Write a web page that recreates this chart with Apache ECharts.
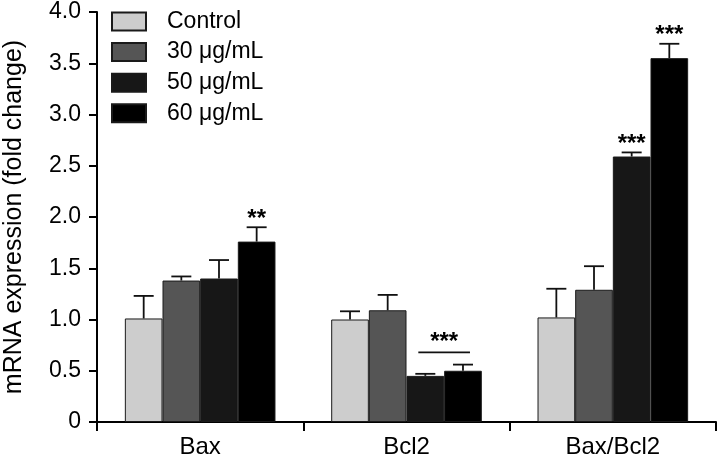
<!DOCTYPE html>
<html><head><meta charset="utf-8">
<script src="https://cdn.jsdelivr.net/npm/echarts@6/dist/echarts.min.js"></script>
<style>html,body{margin:0;padding:0;background:#fff}#c{width:718px;height:458px}</style>
</head><body><div id="c"></div>
<script>
const categories = ['Bax', 'Bcl2', 'Bax/Bcl2'];
const seriesNames = ['Control', '30 μg/mL', '50 μg/mL', '60 μg/mL'];
const control = [1.01, 1.00, 1.02];
const dose30 = [1.38, 1.09, 1.29];
const dose50 = [1.40, 0.45, 2.59];
const dose60 = [1.76, 0.50, 3.55];
const err_control = [0.22, 0.08, 0.28];
const err_dose30 = [0.04, 0.15, 0.23];
const err_dose50 = [0.18, 0.02, 0.04];
const err_dose60 = [0.14, 0.06, 0.14];
// significance: [categoryIndex, seriesIndex, label]
const stars = [[0, 3, '**'], [2, 2, '***'], [2, 3, '***']];
// bracket over Bcl2 50 & 60: [categoryIndex, fromSeries, toSeries, yValue, label]
const bracket = [[1, 2, 3, 0.68, '***']];
const yTicks = [0, 0.5, 1.0, 1.5, 2.0, 2.5, 3.0, 3.5, 4.0];

const values = [control, dose30, dose50, dose60];
const errs = [err_control, err_dose30, err_dose50, err_dose60];
const colors = ['#cdcdcd', '#555555', '#171717', '#000000'];
const GAP = 0.27;
const FONT = 'Liberation Sans, Arial, sans-serif';

function offsetFor(api, s) {
  const cw = api.size([1, 0])[0];
  const bw = cw * (1 - GAP) / 4;
  return (s - 1.5) * bw;
}

const errData = [];
values.forEach((arr, s) => arr.forEach((v, c) => errData.push([c, v, v + errs[s][c], s])));
const starData = stars.map(([c, s, t]) => [c, values[s][c] + errs[s][c], s, t]);
const bracketData = bracket.map(([c, s1, s2, y, t]) => [c, y, s1, s2, t]);

const series = seriesNames.map((n, s) => ({
  name: n, type: 'bar', data: values[s],
  barGap: '0%', barCategoryGap: (GAP * 100) + '%',
  itemStyle: { color: colors[s], borderColor: '#1a1a1a', borderWidth: 1 },
  emphasis: { disabled: true }, z: 2
}));

series.push({
  type: 'custom', z: 3, data: errData, silent: true,
  renderItem: (params, api) => {
    const c = api.value(0), s = api.value(3);
    const off = offsetFor(api, s);
    const p0 = api.coord([c, api.value(1)]);
    const p1 = api.coord([c, api.value(2)]);
    const x = p0[0] + off;
    return { type: 'group', children: [
      { type: 'line', shape: { x1: x, y1: p0[1], x2: x, y2: p1[1] }, style: { stroke: '#111', lineWidth: 1.8 } },
      { type: 'line', shape: { x1: x - 10, y1: p1[1], x2: x + 10, y2: p1[1] }, style: { stroke: '#111', lineWidth: 1.8 } }
    ]};
  }
});

series.push({
  type: 'custom', z: 4, data: starData, silent: true,
  renderItem: (params, api) => {
    const c = api.value(0), s = api.value(2);
    const p = api.coord([c, api.value(1)]);
    return { type: 'text', style: { text: starData[params.dataIndex][3], x: p[0] + offsetFor(api, s), y: p[1] - 8,
      align: 'center', verticalAlign: 'middle', font: 'bold 24px ' + FONT, fill: '#000' } };
  }
});

series.push({
  type: 'custom', z: 4, data: bracketData, silent: true,
  renderItem: (params, api) => {
    const c = api.value(0);
    const p = api.coord([c, api.value(1)]);
    const x1 = p[0] + offsetFor(api, api.value(2)) - 7;
    const x2 = p[0] + offsetFor(api, api.value(3)) + 7;
    return { type: 'group', children: [
      { type: 'line', shape: { x1: x1, y1: p[1], x2: x2, y2: p[1] }, style: { stroke: '#111', lineWidth: 1.8 } },
      { type: 'text', style: { text: bracketData[params.dataIndex][4], x: (x1 + x2) / 2, y: p[1] - 10,
        align: 'center', verticalAlign: 'middle', font: 'bold 24px ' + FONT, fill: '#000' } }
    ]};
  }
});

const chart = echarts.init(document.getElementById('c'), null, { renderer: 'canvas' });
chart.setOption({
  animation: false,
  backgroundColor: '#fff',
  textStyle: { fontFamily: FONT },
  grid: { left: 97, right: 2, top: 12, bottom: 36, containLabel: false, outerBoundsMode: 'none' },
  legend: {
    data: seriesNames, left: 111, top: 10, orient: 'vertical', padding: 0,
    itemWidth: 34, itemHeight: 18, itemGap: 7.6, icon: 'rect',
    textStyle: { fontSize: 23, lineHeight: 20, color: '#000', fontFamily: FONT, padding: [0, 0, 0, 16] },
    selectedMode: false
  },
  xAxis: {
    type: 'category', data: categories,
    axisLine: { lineStyle: { color: '#000', width: 2 } },
    axisTick: { show: true, length: 9, lineStyle: { color: '#000', width: 2 } },
    axisLabel: { fontSize: 24, color: '#000', margin: 13 }
  },
  yAxis: {
    type: 'value', min: 0, max: 4, interval: 0.5,
    name: 'mRNA expression (fold change)', nameLocation: 'middle', nameGap: 70,
    nameTextStyle: { fontSize: 25, color: '#000' },
    axisLine: { show: true, lineStyle: { color: '#000', width: 2 } },
    axisTick: { show: true, length: 8, lineStyle: { color: '#000', width: 2 } },
    splitLine: { show: false },
    axisLabel: { fontSize: 23, color: '#000', margin: 16,
      formatter: v => (v === yTicks[0]) ? '0' : v.toFixed(1) }
  },
  series: series
});
</script></body></html>
